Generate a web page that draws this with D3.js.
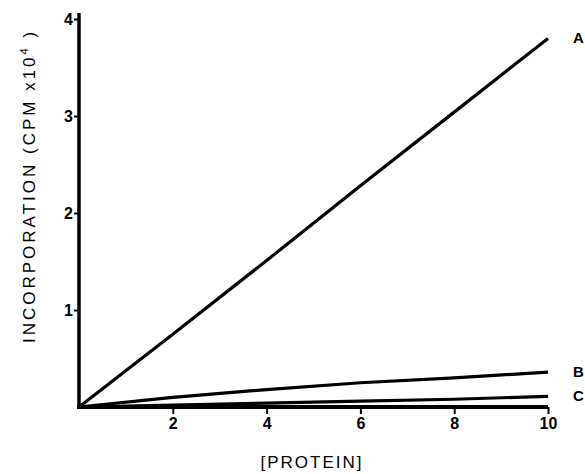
<!DOCTYPE html>
<html>
<head>
<meta charset="utf-8">
<script src="https://cdn.jsdelivr.net/npm/d3@7"></script>
<style>
  body { margin: 0; background: #fff; }
  svg { display: block; }
  .axis path, .axis line { stroke: #000; }
  .axis text { font-family: "Liberation Sans", Arial, sans-serif; font-size: 16px; fill: #000; }
</style>
</head>
<body>
<svg id="chart"></svg>
<script>
/* ------------ DATA --------------------------------------------------- */
const protein = [0, 2, 4, 6, 8, 10];
const seriesA = [0, 0.75, 1.51, 2.28, 3.04, 3.8];
const seriesB = [0, 0.1, 0.18, 0.25, 0.3, 0.36];
const seriesC = [0, 0.02, 0.04, 0.06, 0.08, 0.11];
const seriesNames = ['A', 'B', 'C'];
const xTicks = [2, 4, 6, 8, 10];
const yTicks = [1, 2, 3, 4];

/* ------------ SETUP -------------------------------------------------- */
const W = 585, H = 474;
const svg = d3.select('#chart').attr('width', W).attr('height', H);

const x = d3.scaleLinear().domain([0, 10]).range([79, 548]);
const y = d3.scaleLinear().domain([0, 4]).range([407, 19]);

/* ------------ AXES --------------------------------------------------- */
const xAxis = svg.append('g')
  .attr('class', 'axis')
  .attr('transform', `translate(0,${y(0)})`)
  .call(d3.axisBottom(x).tickValues(xTicks).tickFormat(d3.format('d'))
    .tickSize(7).tickSizeOuter(0).tickPadding(4));
xAxis.select('.domain').attr('stroke-width', 4).attr('d', `M${x(0) - 2},0H${x(10)}`);
xAxis.selectAll('.tick line').attr('stroke-width', 2);

const yAxis = svg.append('g')
  .attr('class', 'axis')
  .attr('transform', `translate(${x(0)},0)`)
  .call(d3.axisLeft(y).tickValues(yTicks).tickFormat(d3.format('d'))
    .tickSize(5).tickSizeOuter(0).tickPadding(1));
yAxis.select('.domain').attr('stroke-width', 3.5).attr('d', `M0,${y(0) + 2}V${y(4) - 6}`);
yAxis.selectAll('.tick line').attr('stroke-width', 2);
yAxis.selectAll('.tick text').attr('font-weight', 'bold');
xAxis.selectAll('.tick text').attr('font-weight', 'bold');

/* ------------ LINES -------------------------------------------------- */
const line = d3.line()
  .x((d, i) => x(protein[i]))
  .y(d => y(d));

[seriesA, seriesB, seriesC].forEach((s, k) => {
  svg.append('path')
    .datum(s)
    .attr('fill', 'none')
    .attr('stroke', '#000')
    .attr('stroke-width', 3.2)
    .attr('d', line);
  svg.append('text')
    .attr('x', x(10) + 25)
    .attr('y', y(s[s.length - 1]) + 5)
    .attr('text-anchor', 'start')
    .attr('font-family', '"Liberation Sans", Arial, sans-serif')
    .attr('font-weight', 'bold')
    .attr('font-size', 15)
    .text(seriesNames[k]);
});

/* ------------ AXIS TITLES ------------------------------------------- */
svg.append('text')
  .attr('x', 312)
  .attr('y', 468)
  .attr('text-anchor', 'middle')
  .attr('font-family', '"Liberation Sans", Arial, sans-serif')
  .attr('font-size', 17)
  .attr('letter-spacing', 2)
  .text('[PROTEIN]');

const yl = svg.append('text')
  .attr('transform', 'translate(35,186) rotate(-90)')
  .attr('text-anchor', 'middle')
  .attr('font-family', '"Liberation Sans", Arial, sans-serif')
  .attr('font-size', 17)
  .attr('letter-spacing', 3);
yl.append('tspan').text('INCORPORATION (CPM  x10');
yl.append('tspan').attr('dy', -7).attr('font-size', 11).text('4');
yl.append('tspan').attr('dy', 7).text(' )');
</script>
</body>
</html>
